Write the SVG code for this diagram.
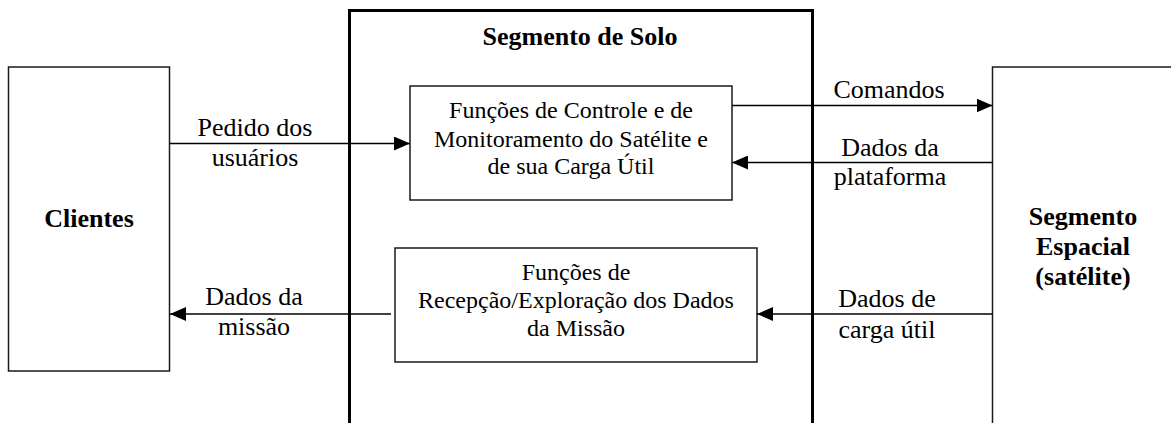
<svg xmlns="http://www.w3.org/2000/svg" width="1171" height="423" viewBox="0 0 1171 423">
<defs>
<style>
.box{fill:none;stroke:#1a1a1a;stroke-width:1.5}
.seg{fill:none;stroke:#000;stroke-width:3}
.t{font-family:"Liberation Serif","Times New Roman",serif;fill:#000;text-anchor:middle}
.lbl{font-size:26px}
.in{font-size:24px}
.b{font-size:26px;font-weight:bold}
.con{stroke:#000;stroke-width:1.5;fill:none}
</style>
<marker id="ah" viewBox="0 0 16 14" refX="16" refY="7" markerWidth="16" markerHeight="14" markerUnits="userSpaceOnUse" orient="auto">
<path d="M0,0 L16,7 L0,14 Z" fill="#000"/>
</marker>
</defs>
<rect width="1171" height="423" fill="#fff"/>
<g id="segmento-solo">
<path class="seg" d="M349.5,424 V10.5 H812.5 V424"/>
<text class="t b" x="580" y="45">Segmento de Solo</text>
</g>
<g id="clientes">
<rect class="box" x="8.5" y="67" width="161" height="304"/>
<text class="t b" x="89" y="227">Clientes</text>
</g>
<g id="segmento-espacial">
<path class="box" d="M992.5,424 V67 H1172"/>
<text class="t b" x="1083" y="225">Segmento</text>
<text class="t b" x="1083" y="255">Espacial</text>
<text class="t b" x="1083" y="285">(satélite)</text>
</g>
<g id="controle">
<rect class="box" x="410" y="86" width="322" height="114"/>
<text class="t in" x="571" y="118">Funções de Controle e de</text>
<text class="t in" x="571" y="146.5">Monitoramento do Satélite e</text>
<text class="t in" x="571" y="174">de sua Carga Útil</text>
</g>
<g id="recepcao">
<rect class="box" x="395" y="248" width="362" height="114"/>
<text class="t in" x="576" y="280">Funções de</text>
<text class="t in" x="576" y="308">Recepção/Exploração dos Dados</text>
<text class="t in" x="576" y="335.5">da Missão</text>
</g>
<g id="connectors">
<line class="con" x1="169.5" y1="143.5" x2="410" y2="143.5" marker-end="url(#ah)"/>
<line class="con" x1="391" y1="314" x2="170" y2="314" marker-end="url(#ah)"/>
<line class="con" x1="732" y1="105.5" x2="992.5" y2="105.5" marker-end="url(#ah)"/>
<line class="con" x1="992.5" y1="162.5" x2="732" y2="162.5" marker-end="url(#ah)"/>
<line class="con" x1="992.5" y1="314" x2="757" y2="314" marker-end="url(#ah)"/>
</g>
<g id="labels">
<text class="t lbl" x="255" y="136">Pedido dos</text>
<text class="t lbl" x="255" y="166">usuários</text>
<text class="t lbl" x="254" y="305">Dados da</text>
<text class="t lbl" x="254" y="335">missão</text>
<text class="t lbl" x="889" y="98">Comandos</text>
<text class="t lbl" x="890" y="156">Dados da</text>
<text class="t lbl" x="890" y="185">plataforma</text>
<text class="t lbl" x="887" y="307">Dados de</text>
<text class="t lbl" x="887" y="338">carga útil</text>
</g>
</svg>
